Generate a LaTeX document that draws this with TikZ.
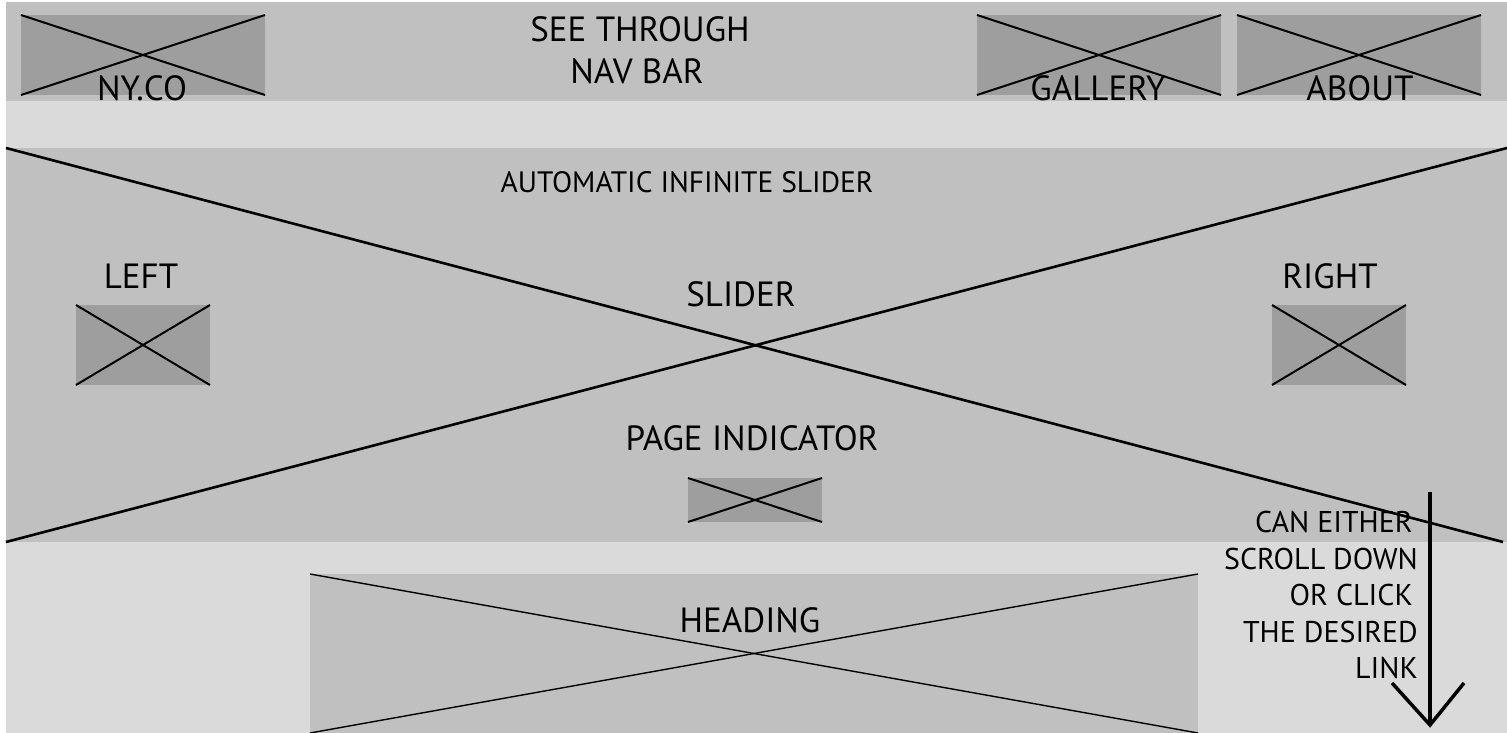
\documentclass[tikz,border=0pt]{standalone}
\usepackage{fontspec}
\setmainfont{PT Sans}
\usetikzlibrary{calc}
\definecolor{barfill}{RGB}{192,192,192}
\definecolor{pagefill}{RGB}{218,218,218}
\definecolor{boxfill}{RGB}{158,158,158}
\tikzset{
  x=1pt, y=-1pt,
  placeholder/.style={fill=boxfill, draw=none, inner sep=0pt, outer sep=0pt, anchor=north west},
  band/.style={fill=barfill, draw=none, inner sep=0pt, outer sep=0pt, anchor=north west},
  cross/.style={line width=2pt, black},
  label/.style={anchor=base, inner sep=0pt, font=\fontsize{35}{38}\selectfont},
  titlelabel/.style={anchor=base, inner sep=0pt, font=\fontsize{29.5}{32}\selectfont},
  hintlabel/.style={anchor=base east, inner sep=0pt, font=\fontsize{30}{32}\selectfont},
}
\begin{document}
\begin{tikzpicture}
\useasboundingbox (0,0) rectangle (1507,733);
% page background and bands
\fill[white] (0,0) rectangle (1507,733);
\fill[pagefill] (6,2) rectangle (1507,733);
\node[band, minimum width=1501pt, minimum height=99pt] (nav) at (6,2) {};
\node[band, minimum width=1501pt, minimum height=394pt] (slider) at (6,148) {};
\node[band, minimum width=888pt, minimum height=159pt] (heading) at (310,574) {};

% slider cross
\draw[line width=2.6pt] (slider.north west) -- (1503,542);
\draw[line width=2.6pt] (slider.south west) -- (1507,148);
% heading cross
\draw[line width=1.4pt] (heading.north west) -- (heading.south east);
\draw[line width=1.4pt] (heading.south west) -- (heading.north east);

% navigation placeholders
\node[placeholder, minimum width=244pt, minimum height=80pt] (logo) at (21,15) {};
\node[placeholder, minimum width=244pt, minimum height=80pt] (gallery) at (977,15) {};
\node[placeholder, minimum width=244pt, minimum height=80pt] (about) at (1237,15) {};
% slider controls
\node[placeholder, minimum width=134pt, minimum height=80pt] (left) at (76,305) {};
\node[placeholder, minimum width=134pt, minimum height=80pt] (right) at (1272,305) {};
\node[placeholder, minimum width=134pt, minimum height=44pt] (pager) at (688,478) {};

\foreach \b in {logo,gallery,about,left,right,pager}{
  \draw[cross] (\b.north west) -- (\b.south east);
  \draw[cross] (\b.south west) -- (\b.north east);
}

% labels
\node[label] (navtitle1) at (640,42) {SEE THROUGH};
\node[label] (navtitle2) at (637,84) {NAV BAR};
\node[label] (logotext) at (142,101) {NY.CO};
\node[label] (gallerytext) at (1098,101) {GALLERY};
\node[label] (abouttext) at (1360,101) {ABOUT};
\node[titlelabel] (slidertitle) at (687,192) {AUTOMATIC INFINITE SLIDER};
\node[label] (lefttext) at (141,288) {LEFT};
\node[label] (slidertext) at (741,306) {SLIDER};
\node[label] (righttext) at (1330,288) {RIGHT};
\node[label] (pagertext) at (752,450) {PAGE INDICATOR};
\node[label] (headingtext) at (750,632) {HEADING};

\node[hintlabel] (hint1) at (1413,532) {CAN EITHER};
\node[hintlabel] (hint2) at (1418,569) {SCROLL DOWN};
\node[hintlabel] (hint3) at (1413,605) {OR CLICK};
\node[hintlabel] (hint4) at (1418,642) {THE DESIRED};
\node[hintlabel] (hint5) at (1418,678) {LINK};

% scroll arrow
\coordinate (arrowtop) at (1430,492);
\coordinate (arrowtip) at (1430,725);
\draw[line width=3.5pt] (arrowtop) -- (arrowtip);
\draw[line width=3.5pt, line join=miter] ($(arrowtip)+(-38,-42)$) -- (arrowtip) -- ($(arrowtip)+(34,-42)$);
\end{tikzpicture}
\end{document}
